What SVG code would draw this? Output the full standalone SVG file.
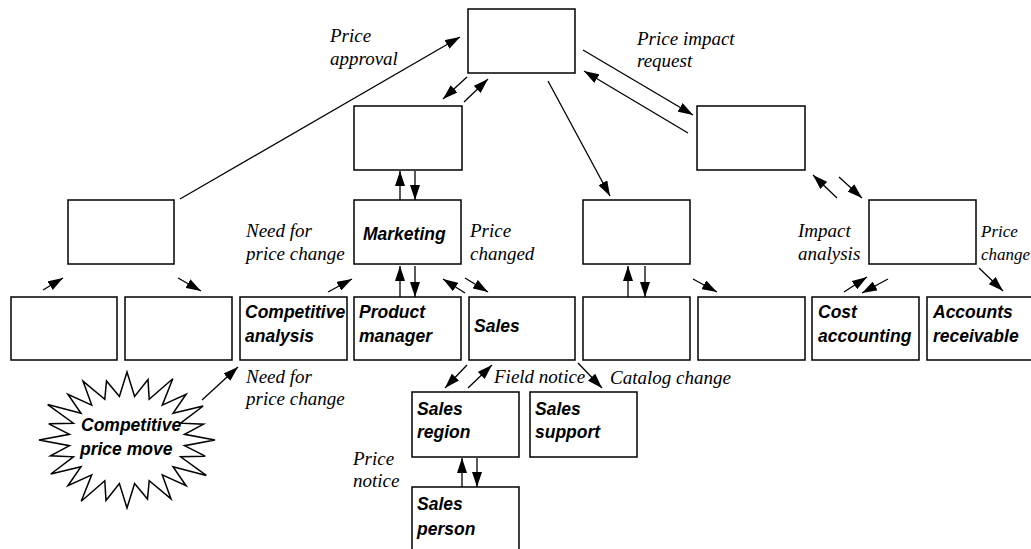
<svg xmlns="http://www.w3.org/2000/svg" width="1031" height="549" viewBox="0 0 1031 549">
<style>
.box{fill:#fff;stroke:#000;stroke-width:1.5}
.bt{font-family:"Liberation Sans",Arial,sans-serif;font-weight:bold;font-style:italic;font-size:17.5px;fill:#000}
.lb{font-family:"Liberation Serif","Times New Roman",serif;font-style:italic;font-size:19px;fill:#000}
.c line{stroke:#000;stroke-width:1.3;marker-end:url(#ah)}
</style>
<defs>
<marker id="ah" viewBox="0 0 15 10" refX="15" refY="5" markerWidth="15" markerHeight="10" markerUnits="userSpaceOnUse" orient="auto">
<path d="M0,0 L15,5 L0,10 z" fill="#000"/>
</marker>
</defs>
<rect width="1031" height="549" fill="#fff"/>

<g id="top"><rect class="box" x="468" y="9" width="107" height="64"/></g>
<g id="boxB"><rect class="box" x="354" y="106" width="108" height="64"/></g>
<g id="boxR1"><rect class="box" x="697" y="106" width="108" height="64"/></g>
<g id="boxL"><rect class="box" x="68" y="200" width="106" height="64"/></g>
<g id="marketing"><rect class="box" x="354" y="200" width="107" height="64"/><text class="bt" x="363" y="240">Marketing</text></g>
<g id="boxM2"><rect class="box" x="583" y="200" width="107" height="64"/></g>
<g id="boxR2"><rect class="box" x="869" y="200" width="107" height="64"/></g>

<g id="b0"><rect class="box" x="11" y="297" width="106" height="63"/></g>
<g id="b1"><rect class="box" x="125" y="297" width="107" height="63"/></g>
<g id="competitive-analysis"><rect class="box" x="240" y="297" width="107" height="63"/><text class="bt" x="245" y="318">Competitive</text><text class="bt" x="245" y="342">analysis</text></g>
<g id="product-manager"><rect class="box" x="354" y="297" width="107" height="63"/><text class="bt" x="359" y="318">Product</text><text class="bt" x="359" y="342">manager</text></g>
<g id="sales"><rect class="box" x="469" y="297" width="106" height="63"/><text class="bt" x="474" y="332">Sales</text></g>
<g id="b5"><rect class="box" x="583" y="297" width="107" height="63"/></g>
<g id="b6"><rect class="box" x="698" y="297" width="107" height="63"/></g>
<g id="cost-accounting"><rect class="box" x="812" y="297" width="107" height="63"/><text class="bt" x="818" y="318">Cost</text><text class="bt" x="818" y="342">accounting</text></g>
<g id="accounts-receivable"><path class="box" d="M1031,297 H927 V360 H1031"/><text class="bt" x="933" y="318">Accounts</text><text class="bt" x="933" y="342">receivable</text></g>

<g id="sales-region"><rect class="box" x="412" y="392" width="107" height="65"/><text class="bt" x="417" y="415">Sales</text><text class="bt" x="417" y="438">region</text></g>
<g id="sales-support"><rect class="box" x="530" y="392" width="107" height="65"/><text class="bt" x="535" y="415">Sales</text><text class="bt" x="535" y="438">support</text></g>
<g id="sales-person"><path class="box" d="M412,549 V487 H519 V549"/><text class="bt" x="417" y="510">Sales</text><text class="bt" x="417" y="535">person</text></g>

<g id="competitive-price-move">
<polygon class="box" stroke-width="1.3" points="215,440 184.5,445.7 205.2,456.2 180.6,456.8 206.3,475.4 173,466.8 186.1,485.7 162.3,474.9 171,498.9 149.2,480.7 147.5,499.1 134.6,483.6 127,508 119.4,483.6 106,500.4 104.8,480.7 81.2,501.2 91.7,474.9 67.9,485.7 81,466.8 50.8,474 73.4,456.8 50.5,455.8 69.5,445.7 39,440 69.5,434.3 48.8,423.8 73.4,423.2 47.7,404.6 81,413.2 67.9,394.3 91.7,405.1 83,381.1 104.8,399.3 106.5,380.9 119.4,396.4 127,372 134.6,396.4 148,379.6 149.2,399.3 172.8,378.8 162.3,405.1 186.1,394.3 173,413.2 203.2,406 180.6,423.2 203.5,424.2 184.5,434.3"/>
<text class="bt" x="81" y="431">Competitive</text>
<text class="bt" x="80" y="455">price move</text>
</g>

<g id="connectors" class="c">
<line x1="180" y1="199" x2="460" y2="37"/>
<line x1="467" y1="77" x2="443" y2="99"/>
<line x1="464" y1="102" x2="488" y2="79"/>
<line x1="400" y1="200" x2="400" y2="171"/>
<line x1="415" y1="171" x2="415" y2="200"/>
<line x1="548" y1="81" x2="610" y2="196"/>
<line x1="583" y1="50" x2="693" y2="115"/>
<line x1="688" y1="133" x2="584" y2="71"/>
<line x1="837" y1="198" x2="813" y2="175"/>
<line x1="839" y1="177" x2="862" y2="198"/>
<line x1="43" y1="290" x2="63" y2="278"/>
<line x1="178" y1="278" x2="201" y2="291"/>
<line x1="328" y1="292" x2="352" y2="279"/>
<line x1="400" y1="297" x2="400" y2="266"/>
<line x1="415" y1="266" x2="415" y2="297"/>
<line x1="465" y1="293" x2="443" y2="279"/>
<line x1="465" y1="278" x2="488" y2="292"/>
<line x1="628" y1="297" x2="628" y2="266"/>
<line x1="645" y1="266" x2="645" y2="297"/>
<line x1="693" y1="279" x2="717" y2="292"/>
<line x1="844" y1="292" x2="867" y2="277"/>
<line x1="888" y1="279" x2="862" y2="293"/>
<line x1="979" y1="268" x2="1003" y2="291"/>
<line x1="202" y1="400" x2="238" y2="367"/>
<line x1="467" y1="365" x2="445" y2="388"/>
<line x1="468" y1="388" x2="492" y2="365"/>
<line x1="578" y1="363" x2="602" y2="388"/>
<line x1="462" y1="487" x2="462" y2="458"/>
<line x1="477" y1="458" x2="477" y2="487"/>
</g>

<g id="labels">
<text class="lb" x="330" y="42">Price</text>
<text class="lb" x="330" y="65">approval</text>
<text class="lb" x="637" y="45">Price impact</text>
<text class="lb" x="637" y="67">request</text>
<text class="lb" x="246" y="237">Need for</text>
<text class="lb" x="246" y="260">price change</text>
<text class="lb" x="470" y="237">Price</text>
<text class="lb" x="470" y="260">changed</text>
<text class="lb" x="798" y="237">Impact</text>
<text class="lb" x="798" y="260">analysis</text>
<text class="lb" x="981" y="237" style="font-size:17px">Price</text>
<text class="lb" x="981" y="260" style="font-size:17px">change</text>
<text class="lb" x="246" y="383">Need for</text>
<text class="lb" x="246" y="405">price change</text>
<text class="lb" x="494" y="383">Field notice</text>
<text class="lb" x="610" y="384">Catalog change</text>
<text class="lb" x="353" y="465">Price</text>
<text class="lb" x="353" y="487">notice</text>
</g>
</svg>
